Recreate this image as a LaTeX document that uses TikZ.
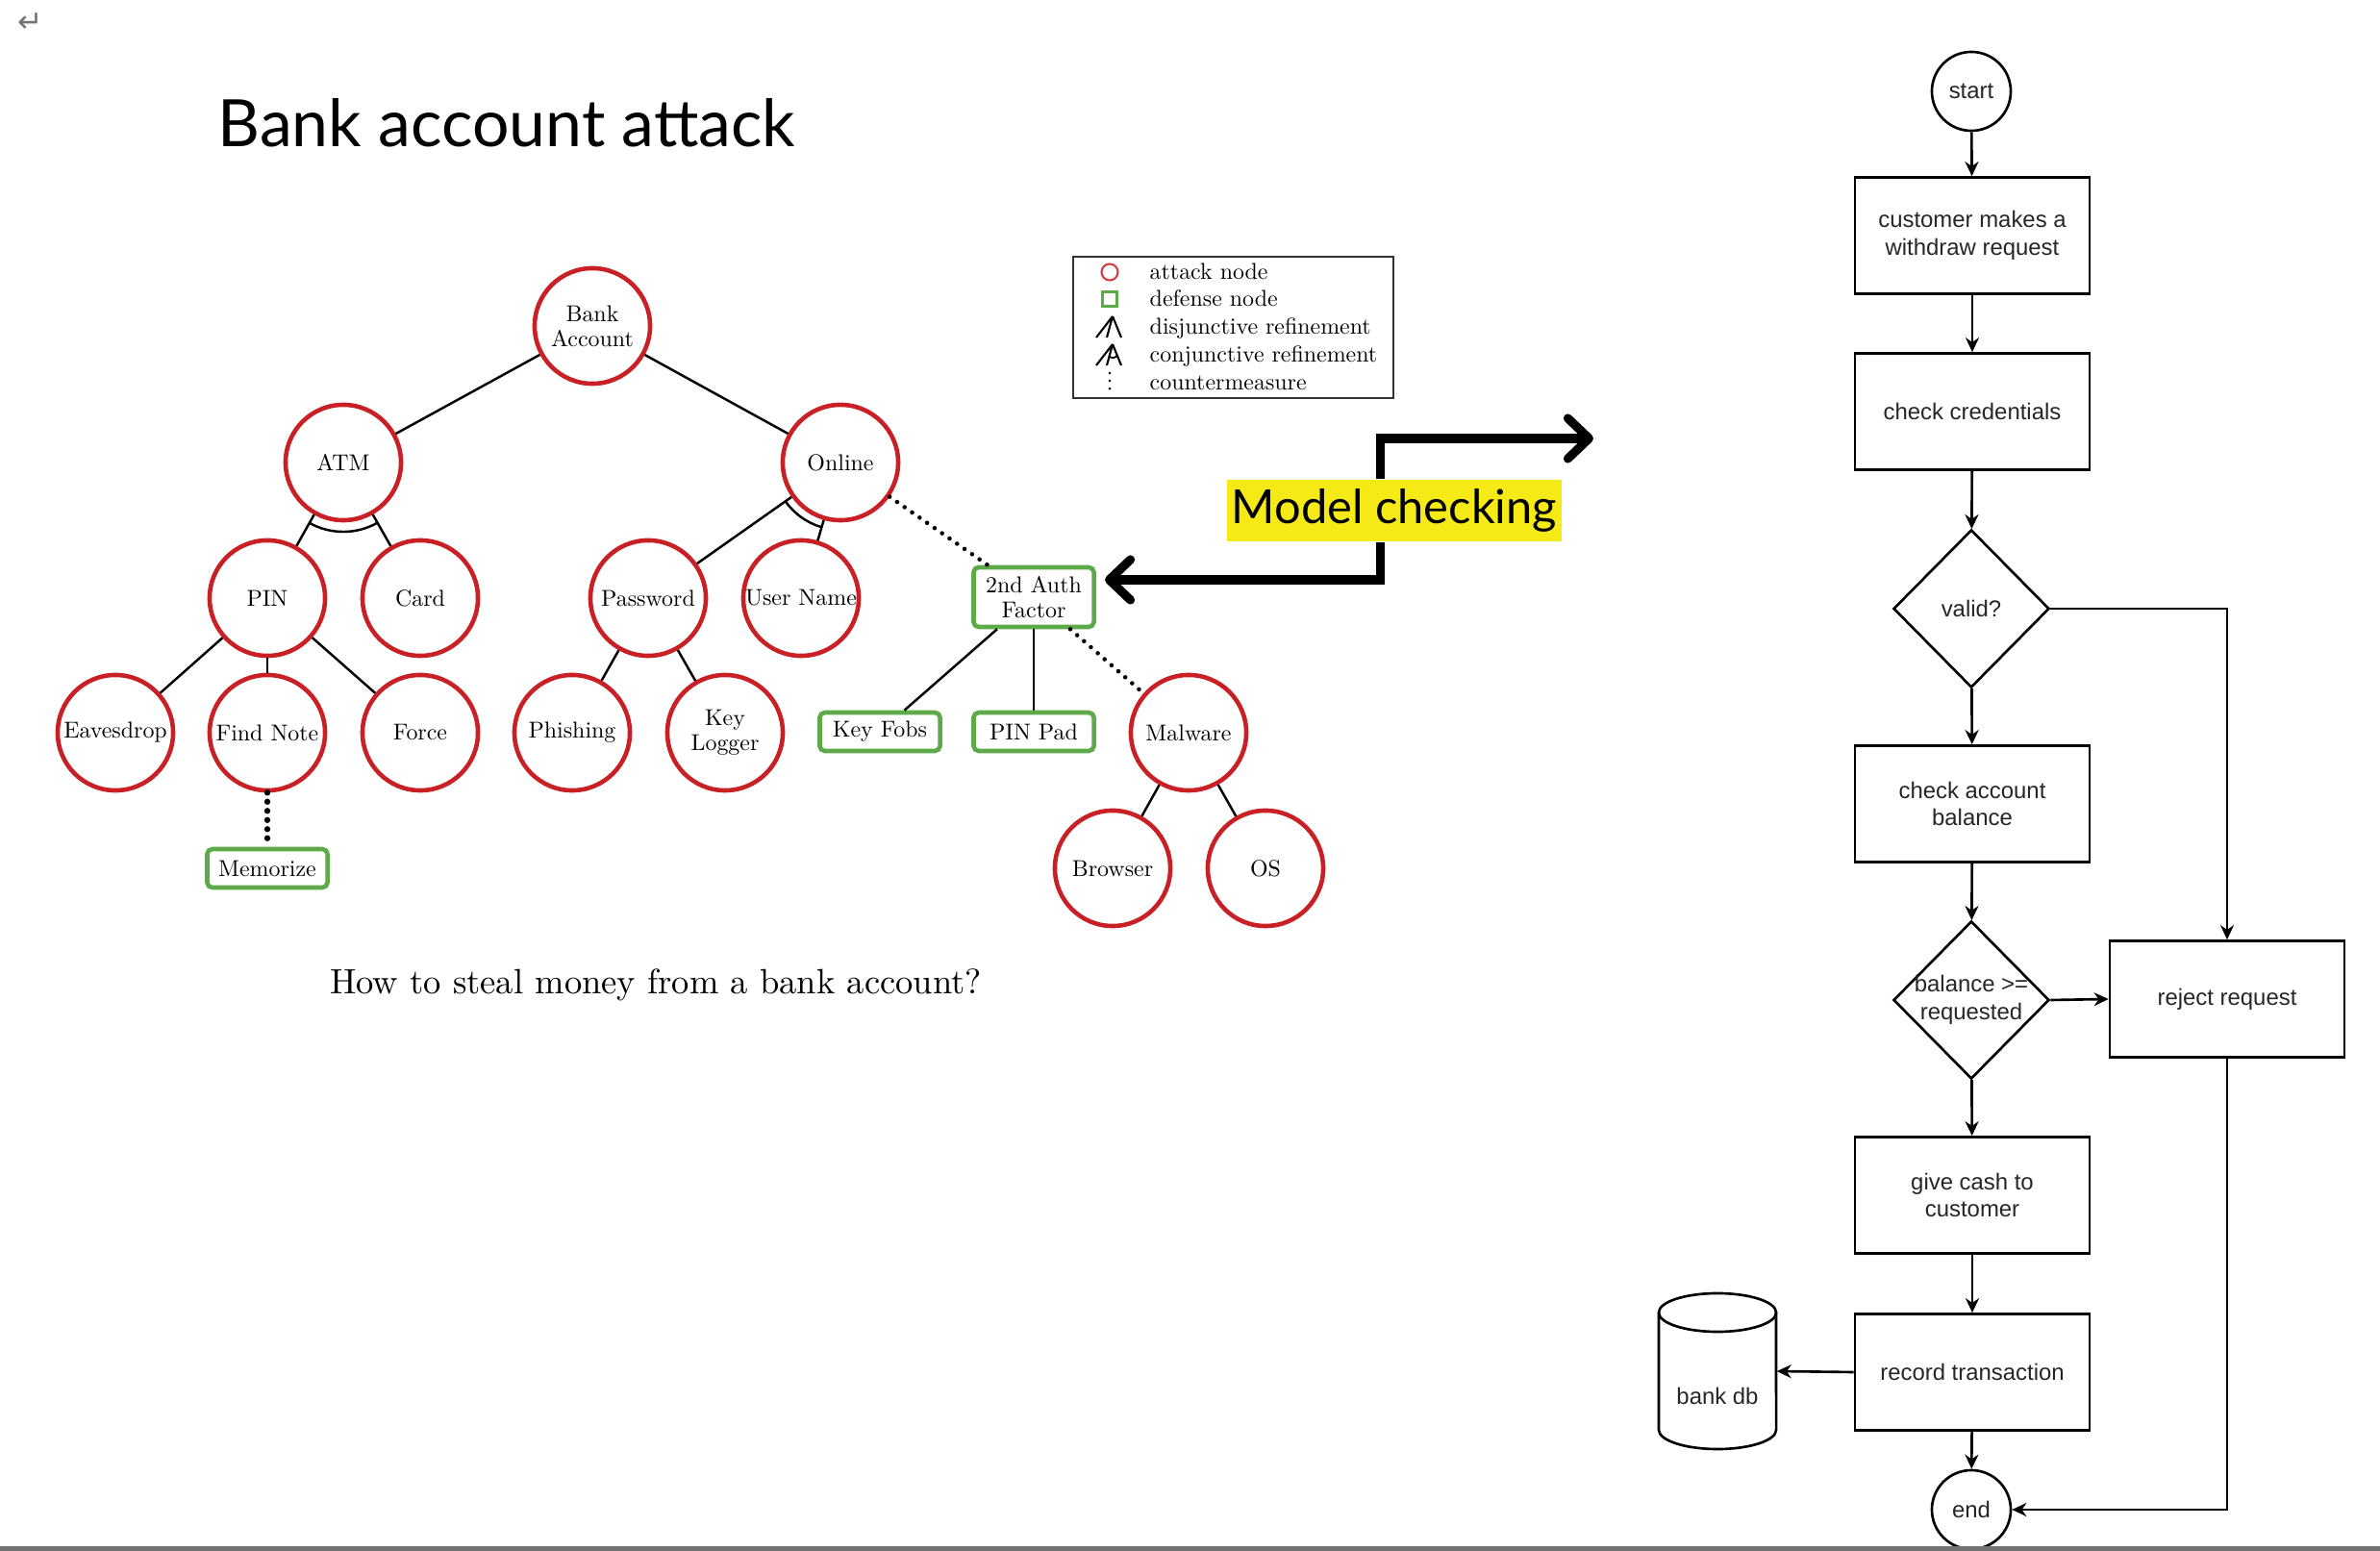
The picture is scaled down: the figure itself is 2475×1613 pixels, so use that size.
\documentclass[tikz,border=0pt]{standalone}
\usepackage{fontspec}
\newfontfamily\fcfont{Liberation Sans}
\newfontfamily\gillfont{Lato}
\newfontfamily\lmten{lmroman10-regular.otf}
\newfontfamily\symfont{DejaVu Sans}
\usetikzlibrary{shapes.geometric,arrows.meta,calc}
\definecolor{atkred}{RGB}{200,32,36}
\definecolor{defgreen}{RGB}{92,170,72}
\definecolor{hlyellow}{RGB}{246,234,22}
\begin{document}
\begin{tikzpicture}[x=0.01cm,y=-0.01cm,
  treefont/.style={font=\lmten\fontsize{6.8}{7.4}\selectfont},
  attack/.style={circle, draw=atkred, line width=1.3pt, minimum size=1.2cm, inner sep=0pt, align=center, treefont},
  defense/.style={rectangle, rounded corners=1.5pt, draw=defgreen, line width=1.3pt, minimum width=1.25cm, minimum height=0.4cm, inner sep=1pt, align=center, treefont},
  tedge/.style={line width=0.7pt},
  cmeasure/.style={line width=1.3pt, dash pattern=on 0pt off 2.7pt, line cap=round},
  bigarrow/.style={line width=2.6pt, -{Straight Barb[length=0.22cm,width=0.42cm,round]}},
  fcfnt/.style={font=\fcfont\fontsize{6.8}{8.1}\selectfont, text=black!85},
  fcbox/.style={rectangle, draw, line width=0.75pt, minimum width=2.44cm, minimum height=1.21cm, inner sep=0pt, align=center, fcfnt},
  fcdia/.style={diamond, draw, line width=0.75pt, minimum width=1.62cm, minimum height=1.64cm, inner sep=0pt},
  fccirc/.style={circle, draw, line width=0.75pt, minimum size=0.82cm, inner sep=0pt, fcfnt},
  fctext/.style={inner sep=0pt, align=center, fcfnt},
  fcarrow/.style={line width=0.75pt, -{Stealth[length=0.15cm,width=0.14cm]}},
  legtext/.style={anchor=west, inner sep=0pt, text height=4.6pt, text depth=1.3pt, treefont}
]
\useasboundingbox (0,0) rectangle (2475,1613);
\fill[white] (0,0) rectangle (2475,1613);

% page marks
\node[text=black!55, inner sep=0pt] (ret) at (32,24) {\symfont\fontsize{9}{9}\selectfont ↵};

% title
\node[anchor=base west, inner sep=0pt] (title) at (226,153) {\resizebox{6.0cm}{!}{\gillfont Bank account attack}};

% ---------------- attack tree ----------------
\node[attack] (bank) at (616,339) {Bank\\Account};
\node[attack] (atm) at (357,481) {ATM};
\node[attack] (online) at (874,481) {Online};
\node[attack] (pin) at (278,622) {PIN};
\node[attack] (card) at (437,622) {Card};
\node[attack] (pass) at (674,622) {Password};
\node[attack] (user) at (833,622) {User Name};
\node[defense, minimum height=0.62cm] (auth) at (1075,621) {2nd Auth\\Factor};
\node[attack] (eaves) at (120,762) {Eavesdrop};
\node[attack] (note) at (278,762) {Find Note};
\node[attack] (force) at (437,762) {Force};
\node[attack] (phish) at (595,762) {Phishing};
\node[attack] (keylog) at (754,762) {Key\\Logger};
\node[defense] (fobs) at (915,761) {Key Fobs};
\node[defense] (pinpad) at (1075,761) {PIN Pad};
\node[attack] (malware) at (1236,762) {Malware};
\node[attack] (browser) at (1157,903) {Browser};
\node[attack] (os) at (1316,903) {OS};
\node[defense] (memo) at (278,903) {Memorize};

\draw[tedge] (bank) -- (atm);
\draw[tedge] (bank) -- (online);
\draw[tedge] (atm) -- (pin);
\draw[tedge] (atm) -- (card);
\draw[tedge] (online) -- (pass);
\draw[tedge] (online) -- (user);
\draw[tedge] (pin) -- (eaves);
\draw[tedge] (pin) -- (note);
\draw[tedge] (pin) -- (force);
\draw[tedge] (pass) -- (phish);
\draw[tedge] (pass) -- (keylog);
\draw[tedge] (auth) -- (fobs);
\draw[tedge] (auth) -- (pinpad);
\draw[tedge] (malware) -- (browser);
\draw[tedge] (malware) -- (os);
\draw[tedge] let \p1=($(pin)-(atm)$), \p2=($(card)-(atm)$), \n1={atan2(\y1,\x1)}, \n2={atan2(\y2,\x2)} in
  ($(atm)+(\n1:0.72cm)$) arc[start angle=\n1, end angle=\n2, radius=0.72cm];
\draw[tedge] let \p1=($(pass)-(online)$), \p2=($(user)-(online)$), \n1={atan2(\y1,\x1)}, \n2={atan2(\y2,\x2)} in
  ($(online)+(\n1:0.70cm)$) arc[start angle=\n1, end angle=\n2, radius=0.70cm];
\draw[cmeasure] (online) -- (auth);
\draw[cmeasure] (auth) -- (malware);
\draw[cmeasure, line width=1.8pt] (note) -- (memo);

\node[inner sep=0pt, font=\fontsize{10.4}{12}\selectfont] (question) at (682,1024) {How to steal money from a bank account?};

% ---------------- legend ----------------
\node[draw=black!80, line width=0.5pt, minimum width=3.33cm, minimum height=1.47cm, inner sep=0pt] (legend) at (1282.5,340.5) {};
\node[circle, draw=atkred!85, line width=0.6pt, minimum size=0.17cm, inner sep=0pt] (lgatk) at (1154,283) {};
\node[rectangle, draw=defgreen, line width=0.6pt, minimum size=0.15cm, inner sep=0pt] (lgdef) at (1154,311) {};
\coordinate (lgd) at (1157,329);
\draw[line width=0.6pt] (lgd) -- (1140,351) (lgd) -- (1151,351) (lgd) -- (1166,351);
\coordinate (lgc) at (1157,358);
\draw[line width=0.6pt] (lgc) -- (1140,380) (lgc) -- (1151,380) (lgc) -- (1166,380);
\draw[line width=0.5pt] (1153,370) .. controls (1157,373) .. (1162,370);
\draw[line width=0.8pt, dash pattern=on 0pt off 2.3pt, line cap=round] (1154,388) -- (1154,408);
\node[legtext] (lt1) at (1195,285) {attack node};
\node[legtext] (lt2) at (1195,313) {defense node};
\node[legtext] (lt3) at (1195,342) {disjunctive refinement};
\node[legtext] (lt4) at (1195,371) {conjunctive refinement};
\node[legtext] (lt5) at (1195,400) {countermeasure};

% ---------------- model checking ----------------
\node[fill=hlyellow, minimum width=3.47cm, minimum height=0.64cm, inner sep=0pt] (mc) at (1450,531) {\resizebox{3.38cm}{!}{\gillfont Model checking}};
\coordinate (mcA) at (1657,456);
\coordinate (mcB) at (1149,603);
\draw[bigarrow] ([xshift=-0.145cm]mc.north) |- (mcA);
\draw[bigarrow] ([xshift=-0.145cm]mc.south) |- (mcB);

% ---------------- flowchart ----------------
\node[fccirc] (start) at (2050,95) {start};
\node[fcbox] (req) at (2051,245) {customer makes a\\withdraw request};
\node[fcbox] (cred) at (2051,428) {check credentials};
\node[fcdia] (valid) at (2050,633) {};
\node[fctext] (validtxt) at (2050,633) {valid?};
\node[fcbox] (chk) at (2051,836) {check account\\balance};
\node[fcdia] (bal) at (2050,1040) {};
\node[fctext] (baltxt) at (2050,1040) {balance >=\\requested};
\node[fcbox] (reject) at (2316,1039) {reject request};
\node[fcbox] (cash) at (2051,1243) {give cash to\\customer};
\node[fcbox] (rec) at (2051,1427) {record transaction};
\node[fccirc] (end) at (2050,1570) {end};
\node[minimum width=1.22cm, minimum height=1.62cm, inner sep=0pt] (db) at (1786,1426) {};
\draw[line width=0.75pt] (1725,1365) -- (1725,1487) arc[start angle=180, end angle=360, x radius=0.61cm, y radius=0.2cm] -- (1847,1365);
\draw[line width=0.75pt] (1786,1365) ellipse[x radius=0.61cm, y radius=0.2cm];
\node[fctext] (dbtxt) at (1786,1452) {bank db};

\draw[fcarrow] (start) -- (req);
\draw[fcarrow] (req) -- (cred);
\draw[fcarrow] (cred) -- (valid);
\draw[fcarrow] (valid) -- (chk);
\draw[fcarrow] (valid.east) -| (reject.north);
\draw[fcarrow] (chk) -- (bal);
\draw[fcarrow] (bal.east) -- (reject.west);
\draw[fcarrow] (bal) -- (cash);
\draw[fcarrow] (cash) -- (rec);
\draw[fcarrow] (rec.west) -- (db.east);
\draw[fcarrow] (rec) -- (end);
\draw[fcarrow] (reject.south) |- (end.east);

% bottom page bar
\fill[black!55] (0,1607.5) rectangle (2475,1613);
\end{tikzpicture}
\end{document}
